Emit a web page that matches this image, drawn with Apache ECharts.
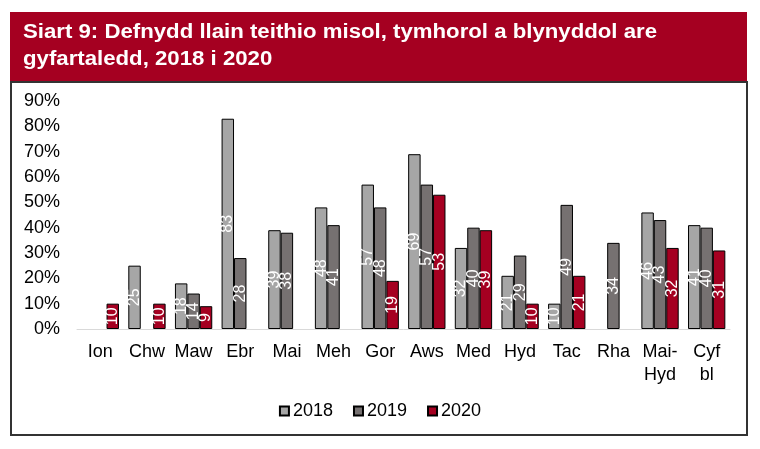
<!DOCTYPE html>
<html><head><meta charset="utf-8">
<script src="https://cdn.jsdelivr.net/npm/echarts@6/dist/echarts.min.js"></script>
<style>html,body{margin:0;padding:0;background:#fff}#c{width:760px;height:449px}</style>
</head><body><div id="c"></div>
<script>
var categories = ['Ion','Chw','Maw','Ebr','Mai','Meh','Gor','Aws','Med','Hyd','Tac','Rha','Mai-\nHyd','Cyf\nbl'];
var v2018 = [null,25,18,83,39,48,57,69,32,21,10,null,46,41];
var v2019 = [null,null,14,28,38,41,48,57,40,29,49,34,43,40];
var v2020 = [10,10,9,null,null,null,19,53,39,10,21,null,32,31];
var yTicks = [0,10,20,30,40,50,60,70,80,90];
var titleLine1 = 'Siart 9: Defnydd llain teithio misol, tymhorol a blynyddol are';
var titleLine2 = 'gyfartaledd, 2018 i 2020';

var font = 'Liberation Sans, Arial, sans-serif';
function ser(name, data, color){
  return {
    name: name, type: 'bar', data: data, barCategoryGap: '20%', barGap: '0%',
    itemStyle: {color: color, borderColor: '#000', borderWidth: 1},
    label: {show: true, position: 'inside', rotate: 90, color: '#fff', fontSize: 16, fontFamily: font}
  };
}
var chart = echarts.init(document.getElementById('c'), null, {renderer:'canvas'});
chart.setOption({
  animation: false,
  textStyle: {fontFamily: font},
  graphic: [
    {type:'rect', shape:{x:10,y:12,width:737,height:70}, style:{fill:'#a50021'}, z:-1},
    {type:'rect', shape:{x:11,y:82,width:736,height:353}, style:{fill:'none', stroke:'#333', lineWidth:2}, z:-1},
    {type:'text', x:23, y:32, scaleX:1.11, style:{text:titleLine1, fill:'#fff', font:'bold 20px '+font, verticalAlign:'middle'}},
    {type:'text', x:23, y:59, scaleX:1.11, style:{text:titleLine2, fill:'#fff', font:'bold 20px '+font, verticalAlign:'middle'}}
  ],
  legend: {data:['2018','2019','2020'], top: 397, left: 'center', icon:'rect', itemWidth: 9, itemHeight: 9, itemGap: 20,
    textStyle:{fontSize:18, color:'#000', fontFamily:font, padding:[0,0,0,-1]}},
  grid: {left: 77, right: 30, top: 101, bottom: 120},
  xAxis: {type:'category', data: categories,
    axisLine:{lineStyle:{color:'#d9d9d9', width:1}}, axisTick:{show:false},
    axisLabel:{color:'#000', fontSize:18, margin:12, lineHeight:23, interval:0, fontFamily:font}},
  yAxis: {type:'value', min:0, max:90, interval:10, splitLine:{show:false}, axisLine:{show:false},
    axisLabel:{color:'#000', fontSize:18, margin:17, fontFamily:font, formatter: function(v){return yTicks.indexOf(v)>=0 ? v+'%' : '';}}},
  series: [ser('2018', v2018, '#a6a6a6'), ser('2019', v2019, '#767171'), ser('2020', v2020, '#a50021')]
});
</script></body></html>
